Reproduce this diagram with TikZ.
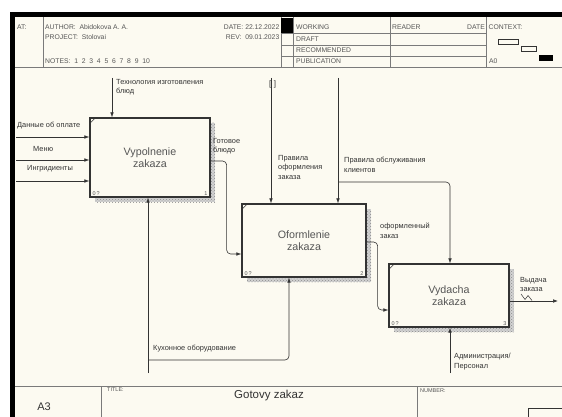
\documentclass[tikz,border=0pt]{standalone}
\usepackage{fontspec}
\setmainfont{Liberation Sans}
\usetikzlibrary{arrows.meta,patterns,calc}
\definecolor{cream}{HTML}{FCFAF1}
\definecolor{ink}{HTML}{333333}
\definecolor{txt}{HTML}{555555}
\definecolor{rule}{HTML}{7A7A7A}
\tikzset{
  hdr/.style={font=\fontsize{6.8}{7}\selectfont, text=txt, anchor=west, inner sep=0pt},
  lbl/.style={font=\fontsize{7.4}{9.6}\selectfont, text=ink, anchor=north west, inner sep=0pt, align=left},
  actbox/.style={draw=ink, line width=1.3pt, fill=cream, align=center, text=txt,
     font=\fontsize{10.7}{12.5}\selectfont, inner sep=0pt},
  shade/.style={pattern=crosshatch dots, pattern color=gray!90},
  flow/.style={draw=ink, line width=0.6pt, rounded corners=4pt, -{Latex[length=5pt,width=3.6pt]}},
  hline/.style={draw=rule, line width=0.7pt},
  tiny/.style={font=\fontsize{5.5}{5.5}\selectfont, text=txt, inner sep=0pt}
}
\begin{document}
\begin{tikzpicture}[x=1pt,y=-1pt]
\useasboundingbox (0,0) rectangle (562,417);
\fill[white] (0,0) rectangle (562,417);
\fill[cream] (15,17) rectangle (562,417);
\fill[black] (10,12) rectangle (562,17);
\fill[black] (10,12) rectangle (15,417);

% header
\draw[hline] (15,67) -- (562,67);
\draw[hline] (43,17) -- (43,67);
\foreach \xx in {281,293,390,486} \draw[hline] (\xx,17) -- (\xx,67);
\foreach \yy in {33,45,56} \draw[hline] (281,\yy) -- (486,\yy);
\fill[black] (281,18) rectangle (293,33);
\node[hdr] (hat) at (17,27.5) {AT:};
\node[hdr] (hau) at (45,27.5) {AUTHOR:\ \ Abidokova A. A.};
\node[hdr] (hpr) at (45,37.5) {PROJECT:\ \ Stolovai};
\node[hdr] (hno) at (45,61.5) {NOTES:\ \ 1\ \ 2\ \ 3\ \ 4\ \ 5\ \ 6\ \ 7\ \ 8\ \ 9\ \ 10};
\node[hdr, anchor=east] (hda) at (279.5,27.5) {DATE:\ 22.12.2022};
\node[hdr, anchor=east] (hre) at (279.5,37.5) {REV:\ \ 09.01.2023};
\node[hdr] (hw) at (296,27) {WORKING};
\node[hdr] (hd) at (296,39) {DRAFT};
\node[hdr] (hr) at (296,50.5) {RECOMMENDED};
\node[hdr] (hp) at (296,61.5) {PUBLICATION};
\node[hdr] (hrd) at (392,27) {READER};
\node[hdr, anchor=east] (hdt) at (485,27) {DATE};
\node[hdr] (hc) at (488.5,27) {CONTEXT:};
\node[hdr] (ha0) at (489,61.5) {A0};
\draw[ink, line width=0.6pt] (498,39) rectangle (518,44);
\draw[ink, line width=0.6pt] (521,46) rectangle (536,51.5);
\fill[black] (539,55) rectangle (553,61);

% footer
\draw[hline] (15,386) -- (562,386);
\draw[hline] (101,386) -- (101,417);
\draw[hline] (417,386) -- (417,417);
\draw[ink, line width=0.6pt] (528,408) -- (563,408);
\draw[ink, line width=0.6pt] (528,408) -- (528,418);
\node[tiny, anchor=west] (ftl) at (107,390) {TITLE:};
\node[tiny, anchor=west] (fnb) at (420,391) {NUMBER:};
\node[font=\fontsize{11}{12}\selectfont, text=ink, inner sep=0pt] (fa3) at (44,407) {A3};
\node[font=\fontsize{11.5}{12}\selectfont, text=ink, inner sep=0pt] (fti) at (269,396) {Gotovy zakaz};

% shadows
\fill[gray!35] (95,123) rectangle (215,202);
\fill[gray!35] (247,209) rectangle (371,282);
\fill[gray!35] (394,269) rectangle (514,332);
\fill[shade] (95,123) rectangle (215,202);
\fill[shade] (247,209) rectangle (371,282);
\fill[shade] (394,269) rectangle (514,332);

% boxes
\node[actbox, minimum width=120pt, minimum height=79pt] (b1) at (150,157.5) {Vypolnenie\\zakaza};
\node[actbox, minimum width=124pt, minimum height=73pt] (b2) at (304,240.5) {Oformlenie\\zakaza};
\node[actbox, minimum width=120pt, minimum height=63pt] (b3) at (449,295.5) {Vydacha\\zakaza};
\foreach \b/\n in {b1/1,b2/2,b3/3}{
  \draw[ink, line width=0.6pt] ($(\b.north west)+(1.5,5)$) -- ($(\b.north west)+(5,1.5)$);
  \node[tiny, anchor=south west] at ($(\b.south west)+(3,-2)$) {0\,?};
  \node[tiny, anchor=south east] at ($(\b.south east)+(-3,-2)$) {\n};
}

% free ends
\coordinate (in1) at (16,137);
\coordinate (in2) at (16,160);
\coordinate (in3) at (16,181);
\coordinate (c1) at (112,78);
\coordinate (m1) at (148,373);
\coordinate (j1) at (148,360);
\coordinate (k1) at (271,78);
\coordinate (k2) at (338,78);
\coordinate (j2) at (338,182);
\coordinate (m3) at (450,373);
\coordinate (o3) at (558,301);

% connectors
\draw[flow] (in1) -- (in1 -| b1.west);
\draw[flow] (in2) -- (in2 -| b1.west);
\draw[flow] (in3) -- (in3 -| b1.west);
\draw[flow] (c1) -- (c1 |- b1.north);
\draw[flow] (m1) -- (m1 |- b1.south);
\draw[flow] (j1) -| ($(b2.south)+(-15,0)$);
\draw[flow] ($(b1.east)+(0,3.5)$) -- ++(16,0) |- ($(b2.west)+(0,13.5)$);
\draw[flow] (k1) -- (k1 |- b2.north);
\draw[flow] (k2) -- (k2 |- b2.north);
\draw[flow] (j2) -| ($(b3.north)+(1,0)$);
\draw[flow] ($(b2.east)+(0,1.5)$) -- ++(11,0) |- ($(b3.west)+(0,14.5)$);
\draw[flow] (m3) -- (m3 |- b3.south);
\draw[flow] ($(b3.east)+(0,5.5)$) -- (o3);
\draw[ink, line width=0.5pt] (521,294) -- (525,299.5) -- (528,295.5) -- (532,300.5);

% labels
\node[lbl] (l1) at (116,79) {Технология изготовления\\блюд};
\node[lbl] (l2) at (17,122) {Данные об оплате};
\node[lbl] (l3) at (33,146) {Меню};
\node[lbl] (l4) at (27,165) {Ингридиенты};
\node[lbl] (l5) at (213,138) {Готовое\\блюдо};
\node[font=\fontsize{8}{8}\selectfont, text=ink, inner sep=0pt] (l6) at (272.5,84) {[\hspace{2.5pt}]};
\node[lbl] (l7) at (278,155) {Правила\\оформления\\заказа};
\node[lbl] (l8) at (344,157) {Правила обслуживания\\клиентов};
\node[lbl] (l9) at (380,223) {оформленный\\заказ};
\node[lbl] (l10) at (153,345) {Кухонное оборудование};
\node[lbl] (l11) at (454,353) {Администрация/\\Персонал};
\node[lbl] (l12) at (520,277) {Выдача\\заказа};
\end{tikzpicture}
\end{document}
